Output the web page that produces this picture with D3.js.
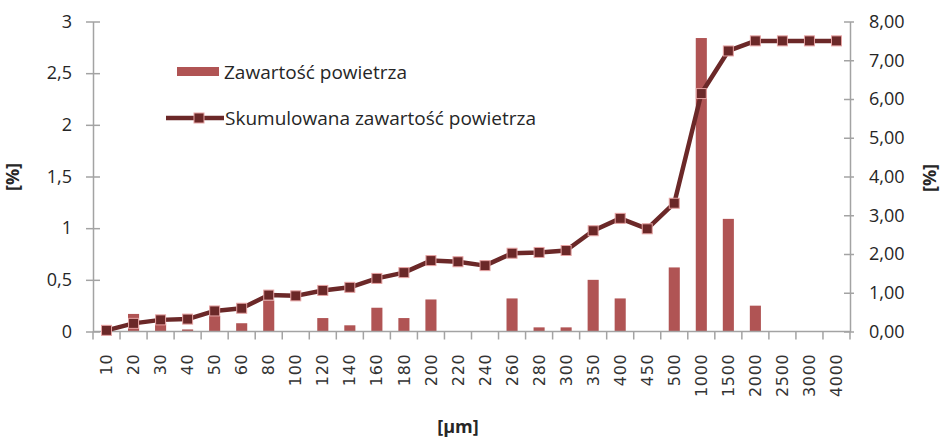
<!DOCTYPE html>
<html>
<head>
<meta charset="utf-8">
<script src="https://cdn.jsdelivr.net/npm/d3@7"></script>
<style>
  body { margin: 0; background: #fff; }
  svg { display: block; }
</style>
</head>
<body>
<svg id="chart" width="942" height="439"></svg>
<script>
// size classes in micrometres
const categories = ["10", "20", "30", "40", "50", "60", "80", "100", "120", "140", "160", "180", "200", "220",
  "240", "260", "280", "300", "350", "400", "450", "500", "1000", "1500", "2000", "2500", "3000", "4000"];

// air content per class, left axis [%]
const airContent = [0, 0.17, 0.08, 0.02, 0.15, 0.08, 0.30, 0, 0.13, 0.06, 0.23, 0.13, 0.31, 0,
  0, 0.32, 0.04, 0.04, 0.50, 0.32, 0, 0.62, 2.84, 1.09, 0.25, 0, 0, 0];

// cumulative air content, right axis [%]
const cumulative = [0.03, 0.21, 0.30, 0.32, 0.53, 0.60, 0.94, 0.92, 1.06, 1.14, 1.37, 1.52, 1.83, 1.80,
  1.70, 2.02, 2.04, 2.09, 2.60, 2.92, 2.65, 3.31, 6.14, 7.24, 7.50, 7.50, 7.50, 7.50];

const leftTicks = [0, 0.5, 1, 1.5, 2, 2.5, 3];
const rightTicks = [0, 1, 2, 3, 4, 5, 6, 7, 8];

const seriesNames = ["Zawartość powietrza", "Skumulowana zawartość powietrza"];

const BAR_COLOR = "#b05454";
const LINE_COLOR = "#6b2828";
const MARKER_STROKE = "#e6a3a3";
const AXIS_COLOR = "#a3a3a3";
const TEXT_COLOR = "#262626";

const svg = d3.select("#chart");
const plot = { left: 93, right: 850, top: 21.5, bottom: 331.5 };

const x = d3.scaleBand().domain(categories).range([plot.left, plot.right]).padding(0);
const yL = d3.scaleLinear().domain([0, 3]).range([plot.bottom, plot.top]);
const yR = d3.scaleLinear().domain([0, 8]).range([plot.bottom, plot.top]);
const comma = (fmt) => (d) => fmt(d).replace(".", ",");

// bars
const barW = x.bandwidth() * 0.41;
svg.append("g")
  .selectAll("rect")
  .data(categories.map((c, i) => ({ c, v: airContent[i] })).filter(d => d.v > 0))
  .join("rect")
  .attr("x", d => x(d.c) + (x.bandwidth() - barW) / 2)
  .attr("y", d => yL(d.v))
  .attr("width", barW)
  .attr("height", d => yL(0) - yL(d.v))
  .attr("fill", BAR_COLOR);

// x axis: line, boundary ticks, rotated labels
const xg = svg.append("g").attr("transform", `translate(0,${plot.bottom})`);
xg.append("line")
  .attr("x1", plot.left).attr("x2", plot.right)
  .attr("stroke", AXIS_COLOR).attr("stroke-width", 1.5);
xg.selectAll("line.tick")
  .data(categories.map(c => x(c)).concat([plot.right]))
  .join("line")
  .attr("class", "tick")
  .attr("x1", d => d).attr("x2", d => d)
  .attr("y1", 0).attr("y2", 8)
  .attr("stroke", AXIS_COLOR).attr("stroke-width", 1.5);

const xAxis = svg.append("g")
  .attr("transform", `translate(0,${plot.bottom})`)
  .call(d3.axisBottom(x).tickSize(0).tickPadding(0));
xAxis.select(".domain").remove();
xAxis.selectAll("text")
  .attr("transform", "rotate(-90)")
  .attr("x", -22)
  .attr("y", 0)
  .attr("dy", "0.35em")
  .attr("text-anchor", "end")
  .attr("font-family", "DejaVu Sans")
  .attr("font-size", 16)
  .attr("letter-spacing", 0.7)
  .attr("fill", "#333");

// left axis
const left = svg.append("g")
  .attr("transform", `translate(${plot.left},0)`)
  .call(d3.axisLeft(yL).tickValues(leftTicks).tickFormat(comma(d3.format("")))
    .tickSizeInner(7).tickSizeOuter(0).tickPadding(14));
left.select(".domain").attr("stroke", AXIS_COLOR).attr("stroke-width", 1.5);
left.selectAll(".tick line").attr("x2", 7).attr("x1", -7).attr("stroke", AXIS_COLOR).attr("stroke-width", 1.5);
left.selectAll(".tick text").attr("font-family", "Open Sans").attr("font-size", 18).attr("fill", TEXT_COLOR);

// right axis
const right = svg.append("g")
  .attr("transform", `translate(${plot.right},0)`)
  .call(d3.axisRight(yR).tickValues(rightTicks).tickFormat(comma(d3.format(".2f")))
    .tickSizeInner(6).tickSizeOuter(0).tickPadding(13));
right.select(".domain").attr("stroke", AXIS_COLOR).attr("stroke-width", 1.5);
right.selectAll(".tick line").attr("x1", -6).attr("x2", 4).attr("stroke", AXIS_COLOR).attr("stroke-width", 1.5);
right.selectAll(".tick text").attr("font-family", "Open Sans").attr("font-size", 18).attr("fill", TEXT_COLOR);

// cumulative line + square markers
const pts = categories.map((c, i) => [x(c) + x.bandwidth() / 2, yR(cumulative[i])]);
svg.append("path")
  .attr("d", d3.line()(pts))
  .attr("fill", "none")
  .attr("stroke", LINE_COLOR)
  .attr("stroke-width", 4.5)
  .attr("stroke-linejoin", "round");
svg.append("g")
  .selectAll("rect")
  .data(pts)
  .join("rect")
  .attr("x", d => d[0] - 5).attr("y", d => d[1] - 5)
  .attr("width", 10).attr("height", 10)
  .attr("fill", LINE_COLOR)
  .attr("stroke", MARKER_STROKE)
  .attr("stroke-width", 1);

// axis titles
const title = (tx, ty, rot, txt) => svg.append("text")
  .attr("transform", `translate(${tx},${ty}) rotate(${rot})`)
  .attr("text-anchor", "middle")
  .attr("dy", "0.35em")
  .attr("font-family", "Open Sans")
  .attr("font-weight", "bold")
  .attr("font-size", 18)
  .attr("fill", TEXT_COLOR)
  .text(txt);
title(13, 177, -90, "[%]");
title(930, 178, -90, "[%]");
title(458, 427, 0, "[µm]");

// legend
const lg = svg.append("g").attr("font-family", "Open Sans").attr("font-size", 19).attr("fill", TEXT_COLOR);
lg.append("rect").attr("x", 177).attr("y", 67).attr("width", 42).attr("height", 9).attr("fill", BAR_COLOR);
lg.append("text").attr("x", 224).attr("y", 72).attr("dy", "0.35em").text(seriesNames[0]);
lg.append("line").attr("x1", 166).attr("x2", 224).attr("y1", 118).attr("y2", 118)
  .attr("stroke", LINE_COLOR).attr("stroke-width", 4.5);
lg.append("rect").attr("x", 194).attr("y", 113).attr("width", 10).attr("height", 10)
  .attr("fill", LINE_COLOR).attr("stroke", MARKER_STROKE).attr("stroke-width", 1);
lg.append("text").attr("x", 225).attr("y", 118).attr("dy", "0.35em").text(seriesNames[1]);
</script>
</body>
</html>
